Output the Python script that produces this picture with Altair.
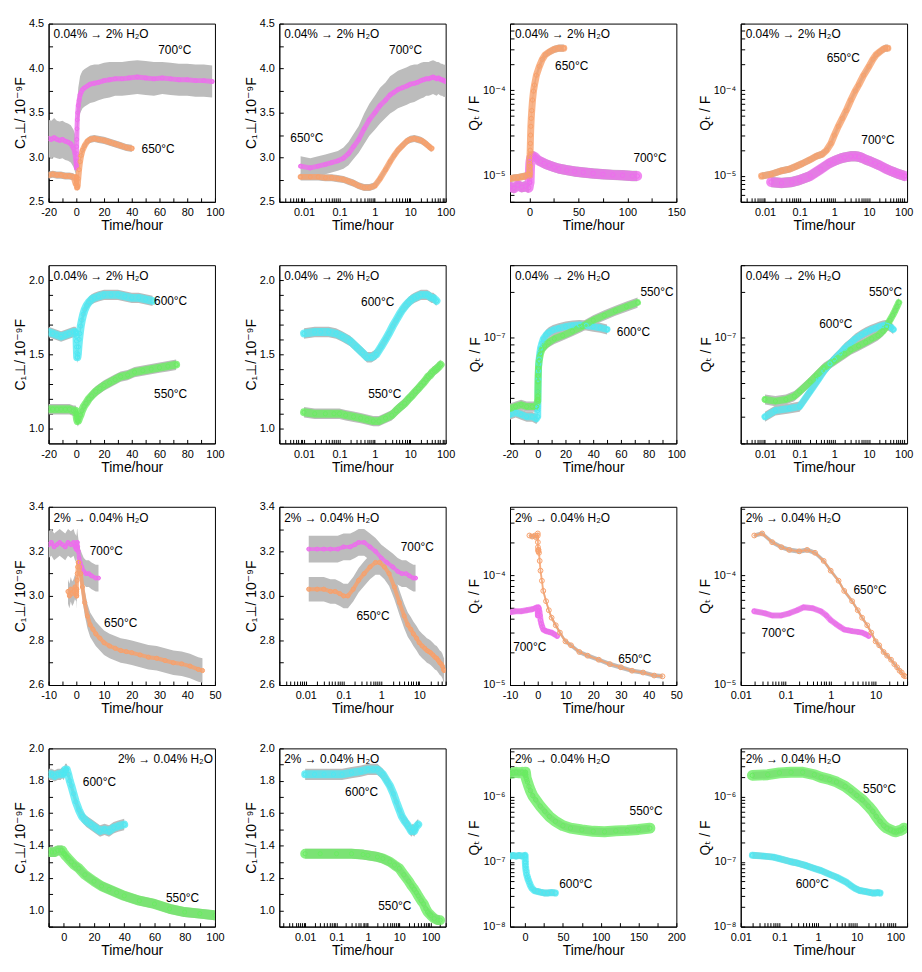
import math
import altair as alt
import pandas as pd

# ---------------- data ----------------
# Hydration 0.04% -> 2% H2O, C1 at 700 C
c1_hyd_700_t = [-20, -18, -16, -14, -12, -10, -8, -6, -4, -2, -1,
                0.008, 0.015, 0.025, 0.04, 0.06, 0.09, 0.13, 0.18, 0.25, 0.35,
                0.5, 0.7, 1.0, 1.4, 2, 2.7, 3.5, 4.5, 6, 8,
                10, 13, 16, 20, 24, 28, 33, 38, 44, 50,
                56, 62, 68, 74, 80, 86, 92, 98]
c1_hyd_700_v = [3.21, 3.2, 3.22, 3.2, 3.19, 3.2, 3.18, 3.17, 3.15, 3.1, 3.05,
                2.9, 2.88, 2.9, 2.92, 2.94, 2.96, 2.99, 3.04, 3.12, 3.2,
                3.32, 3.42, 3.5, 3.58, 3.64, 3.7, 3.73, 3.76, 3.78, 3.8,
                3.82, 3.83, 3.84, 3.86, 3.87, 3.88, 3.88, 3.89, 3.9, 3.89,
                3.88, 3.89, 3.88, 3.87, 3.87, 3.86, 3.86, 3.85]
c1_hyd_700_err = [0.21, 0.21, 0.22, 0.21, 0.21, 0.21, 0.21, 0.21, 0.21, 0.21, 0.21,
                  0.11, 0.11, 0.11, 0.11, 0.11, 0.11, 0.12, 0.13, 0.14, 0.15,
                  0.17, 0.18, 0.19, 0.2, 0.2, 0.21, 0.21, 0.21, 0.21, 0.21,
                  0.21, 0.21, 0.2, 0.2, 0.2, 0.19, 0.19, 0.19, 0.19, 0.19,
                  0.19, 0.18, 0.18, 0.18, 0.18, 0.18, 0.18, 0.18]

# Hydration, C1 at 650 C
c1_hyd_650_t = [-20, -17, -14, -11, -8, -5, -2, -0.5,
                0.008, 0.015, 0.025, 0.04, 0.06, 0.09, 0.13, 0.18, 0.25, 0.35,
                0.5, 0.7, 1.0, 1.4, 2, 2.7, 3.5, 4.5, 6, 8,
                10, 13, 16, 20, 24, 28, 32, 36, 40]
c1_hyd_650_v = [2.8, 2.81, 2.8, 2.8, 2.79, 2.79, 2.78, 2.7,
                2.78, 2.78, 2.78, 2.77, 2.77, 2.76, 2.75, 2.73, 2.71, 2.68,
                2.66, 2.66, 2.68, 2.76, 2.86, 2.95, 3.02, 3.08, 3.13, 3.18,
                3.2, 3.21, 3.2, 3.19, 3.17, 3.15, 3.13, 3.11, 3.1]
c1_hyd_650_err = 0.04

# Hydration, Q_T at 650 C
qt_hyd_650_t = [-20, -16, -12, -8, -4, -1,
                0.008, 0.015, 0.03, 0.05, 0.08, 0.12, 0.2, 0.3, 0.45, 0.6,
                0.8, 1.0, 1.3, 1.7, 2.2, 3, 4, 5, 7, 10,
                13, 16, 20, 25, 30, 35]
qt_hyd_650_v = [9.3e-6, 9.5e-6, 9.6e-6, 9.8e-6, 1.0e-5, 1.05e-5,
                1.0e-5, 1.05e-5, 1.15e-5, 1.2e-5, 1.3e-5, 1.4e-5, 1.55e-5, 1.7e-5, 1.8e-5, 2.0e-5,
                2.4e-5, 3.0e-5, 3.8e-5, 4.7e-5, 5.8e-5, 7.7e-5, 9.8e-5, 1.15e-4, 1.5e-4, 1.9e-4,
                2.3e-4, 2.6e-4, 2.8e-4, 3.0e-4, 3.1e-4, 3.1e-4]
qt_hyd_650_err = 0.1

# Hydration, Q_T at 700 C
qt_hyd_700_t = [-20, -16, -12, -8, -4, -1,
                0.015, 0.03, 0.06, 0.1, 0.2, 0.4, 0.7, 1, 1.5, 2,
                3, 4, 5, 6.5, 8, 11, 15, 20, 25, 30,
                38, 46, 55, 65, 75, 85, 95, 105, 110]
qt_hyd_700_v = [7.5e-6, 7.2e-6, 7.8e-6, 7.4e-6, 7.6e-6, 7.3e-6,
                8.5e-6, 8.3e-6, 8.5e-6, 9.0e-6, 1.0e-5, 1.2e-5, 1.4e-5, 1.5e-5, 1.6e-5, 1.65e-5,
                1.7e-5, 1.7e-5, 1.68e-5, 1.62e-5, 1.55e-5, 1.48e-5, 1.4e-5, 1.33e-5, 1.27e-5, 1.22e-5,
                1.17e-5, 1.13e-5, 1.1e-5, 1.07e-5, 1.05e-5, 1.03e-5, 1.02e-5, 1.0e-5, 1.0e-5]
qt_hyd_700_err = 0.15

# Hydration, C1 at 600 C
c1_hyd_600_t = [-20, -17, -14, -11, -8, -5, -2, -0.5,
                0.01, 0.02, 0.03, 0.05, 0.08, 0.12, 0.2, 0.3, 0.45, 0.6,
                0.8, 1.1, 1.5, 2, 2.5, 3.2, 4, 5, 6, 7.5,
                9, 11, 13, 16, 20, 25, 30, 35, 40, 45,
                50, 55]
c1_hyd_600_v = [1.65, 1.64, 1.63, 1.62, 1.63, 1.64, 1.65, 1.65,
                1.64, 1.65, 1.65, 1.65, 1.64, 1.62, 1.59, 1.55, 1.51, 1.48,
                1.48, 1.5, 1.55, 1.6, 1.64, 1.69, 1.73, 1.77, 1.8, 1.83,
                1.85, 1.87, 1.88, 1.89, 1.9, 1.9, 1.9, 1.89, 1.88, 1.88,
                1.87, 1.86]
c1_hyd_600_err = 0.035

# Hydration, C1 at 550 C
c1_hyd_550_t = [-20, -17, -14, -11, -8, -5, -2, -0.5,
                0.01, 0.02, 0.04, 0.07, 0.1, 0.15, 0.25, 0.4, 0.6, 0.9,
                1.3, 2, 3, 4, 5.5, 7, 9, 11, 14, 17,
                20, 24, 28, 32, 37, 42, 48, 54, 60, 66,
                72]
c1_hyd_550_v = [1.13, 1.13, 1.13, 1.13, 1.13, 1.13, 1.12, 1.12,
                1.11, 1.1, 1.1, 1.1, 1.1, 1.09, 1.08, 1.07, 1.06, 1.05,
                1.05, 1.07, 1.09, 1.12, 1.15, 1.17, 1.2, 1.22, 1.25, 1.27,
                1.29, 1.31, 1.33, 1.35, 1.36, 1.38, 1.39, 1.4, 1.41, 1.42,
                1.43]
c1_hyd_550_err = 0.035

# Hydration, Q_T at 550 C
qt_hyd_550_t = [-20, -16, -12, -8, -4, -1,
                0.01, 0.02, 0.04, 0.07, 0.1, 0.2, 0.3, 0.5,
                1, 2, 3, 5, 8, 12, 18, 25, 32, 40, 48, 56, 64, 72]
qt_hyd_550_v = [3.4e-8, 3.5e-8, 3.6e-8, 3.5e-8, 3.5e-8, 3.5e-8,
                3.9e-8, 3.8e-8, 3.9e-8, 4.1e-8, 4.4e-8, 5.1e-8, 5.6e-8, 6.3e-8,
                7.0e-8, 7.8e-8, 8.3e-8, 8.8e-8, 9.3e-8, 9.8e-8, 1.03e-7, 1.1e-7, 1.18e-7, 1.3e-7,
                1.4e-7, 1.5e-7, 1.6e-7, 1.7e-7]
qt_hyd_550_err = 0.08

# Hydration, Q_T at 600 C
qt_hyd_600_t = [-20, -16, -12, -8, -4, -1,
                0.01, 0.02, 0.05, 0.1, 0.2, 0.35, 0.5, 0.75, 1, 1.5,
                2, 3, 4, 6, 8, 11, 15, 20, 25, 30,
                35, 40, 45, 50]
qt_hyd_600_v = [3.1e-8, 3.2e-8, 3.1e-8, 3.0e-8, 3.0e-8, 2.9e-8,
                3.0e-8, 3.3e-8, 3.4e-8, 3.5e-8, 4.4e-8, 5.3e-8, 6.0e-8, 6.7e-8, 7.2e-8, 7.9e-8,
                8.5e-8, 9.2e-8, 9.8e-8, 1.04e-7, 1.08e-7, 1.12e-7, 1.15e-7, 1.18e-7, 1.2e-7, 1.21e-7,
                1.2e-7, 1.18e-7, 1.16e-7, 1.13e-7]
qt_hyd_600_err = 0.08

# Dehydration 2% -> 0.04% H2O, C1 at 700 C
c1_dehyd_700_t = [-10, -9, -8, -7, -6, -5, -4, -3, -2, -1, -0.5,
                  0.012, 0.02, 0.03, 0.045, 0.07, 0.1, 0.15, 0.2, 0.25, 0.35,
                  0.5, 0.7, 1.0, 1.4, 2, 2.7, 3.5, 4.5, 5.5, 7,
                  8]
c1_dehyd_700_v = [3.23, 3.24, 3.22, 3.23, 3.24, 3.23, 3.22, 3.24, 3.23, 3.24, 3.22,
                  3.21, 3.21, 3.21, 3.21, 3.21, 3.22, 3.22, 3.23, 3.24, 3.24,
                  3.22, 3.2, 3.17, 3.15, 3.13, 3.11, 3.1, 3.1, 3.09, 3.08,
                  3.08]
c1_dehyd_700_err = 0.06

# Dehydration, C1 at 650 C
c1_dehyd_650_t = [-3, -2.5, -2, -1.5, -1, -0.5,
                  0.012, 0.02, 0.03, 0.045, 0.06, 0.08, 0.1, 0.13, 0.18, 0.25,
                  0.35, 0.5, 0.7, 0.9, 1.2, 1.6, 2.2, 3, 4, 5,
                  6, 7, 8.5, 10, 12, 14, 16, 18, 20, 23,
                  26, 29, 32, 35, 38, 41, 44, 45.5]
c1_dehyd_650_v = [3.02, 3.0, 3.03, 3.01, 3.02, 3.04,
                  3.03, 3.03, 3.03, 3.02, 3.02, 3.01, 3.0, 3.0, 3.03, 3.07,
                  3.1, 3.13, 3.15, 3.15, 3.13, 3.1, 3.04, 2.97, 2.91, 2.87,
                  2.85, 2.83, 2.81, 2.79, 2.775, 2.765, 2.755, 2.75, 2.745, 2.735,
                  2.725, 2.72, 2.71, 2.7, 2.695, 2.685, 2.67, 2.665]
c1_dehyd_650_err = 0.055

# Dehydration, Q_T at 650 C
qt_dehyd_650_t = [-3, -2, -1, -0.5,
                  0.02, 0.03, 0.05, 0.08, 0.12, 0.2, 0.3, 0.45, 0.7, 1,
                  1.5, 2, 3, 4, 5, 6.5, 8, 10, 12, 15,
                  18, 22, 26, 30, 34, 38, 42, 45]
qt_dehyd_650_v = [2.3e-4, 2.25e-4, 2.3e-4, 2.2e-4,
                  2.3e-4, 2.4e-4, 2.0e-4, 1.8e-4, 1.7e-4, 1.65e-4, 1.7e-4, 1.6e-4, 1.35e-4, 1.1e-4,
                  8.9e-5, 7.2e-5, 5.8e-5, 4.8e-5, 4.1e-5, 3.5e-5, 3.0e-5, 2.5e-5, 2.3e-5, 2.0e-5,
                  1.85e-5, 1.7e-5, 1.55e-5, 1.45e-5, 1.35e-5, 1.3e-5, 1.22e-5, 1.2e-5]
qt_dehyd_650_err = 0.05

# Dehydration, Q_T at 700 C
qt_dehyd_700_t = [-10, -8, -6, -4, -2, -1, -0.3,
                  0.02, 0.035, 0.05, 0.08, 0.12, 0.18, 0.25, 0.4, 0.6, 0.8,
                  1, 1.3, 1.6, 2, 2.5, 3, 4, 5, 6, 7]
qt_dehyd_700_v = [4.6e-5, 4.7e-5, 4.7e-5, 4.8e-5, 4.9e-5, 5.0e-5, 5.1e-5,
                  4.7e-5, 4.5e-5, 4.3e-5, 4.3e-5, 4.5e-5, 4.8e-5, 5.1e-5, 5.0e-5, 4.7e-5, 4.3e-5,
                  3.9e-5, 3.6e-5, 3.4e-5, 3.2e-5, 3.15e-5, 3.1e-5, 3.05e-5, 3.0e-5, 2.9e-5, 2.8e-5]
qt_dehyd_700_err = 0.05

# Dehydration, C1 at 600 C
c1_dehyd_600_t = [-10, -8, -6, -4, -2, -1,
                  0.01, 0.02, 0.04, 0.08, 0.15, 0.3, 0.6, 1, 1.5, 2,
                  3, 4, 5, 6.5, 8, 10, 12, 15, 18, 21,
                  24, 27, 30, 33, 36, 40]
c1_dehyd_600_v = [1.84, 1.84, 1.83, 1.84, 1.84, 1.85,
                  1.84, 1.84, 1.84, 1.84, 1.84, 1.85, 1.86, 1.87, 1.87, 1.87,
                  1.84, 1.8, 1.77, 1.72, 1.67, 1.62, 1.58, 1.55, 1.53, 1.51,
                  1.49, 1.5, 1.49, 1.51, 1.52, 1.53]
c1_dehyd_600_err = 0.035

# Dehydration, C1 at 550 C
c1_dehyd_550_t = [-10, -8, -6, -4, -2, -1,
                  0.01, 0.03, 0.1, 0.3, 0.7, 1, 2, 3, 5, 7,
                  10, 14, 20, 25, 30, 35, 40, 50, 60, 70,
                  80, 90, 100, 130, 170, 200]
c1_dehyd_550_v = [1.36, 1.36, 1.36, 1.37, 1.37, 1.37,
                  1.35, 1.35, 1.35, 1.35, 1.345, 1.34, 1.33, 1.32, 1.3, 1.28,
                  1.26, 1.22, 1.18, 1.15, 1.13, 1.11, 1.09, 1.06, 1.04, 1.01,
                  0.99, 0.98, 0.97, 0.95, 0.94, 0.94]
c1_dehyd_550_err = 0.03

# Dehydration, Q_T at 550 C
qt_dehyd_550_t = [-20, -16, -12, -8, -4, -1,
                  0.02, 0.05, 0.1, 0.2, 0.4, 0.8, 1.2, 2, 3, 5,
                  7, 10, 14, 20, 26, 32, 40, 50, 60, 75,
                  90, 105, 120, 135, 150, 165]
qt_dehyd_550_v = [2.3e-6, 2.35e-6, 2.4e-6, 2.35e-6, 2.4e-6, 2.3e-6,
                  2.15e-6, 2.2e-6, 2.35e-6, 2.4e-6, 2.4e-6, 2.2e-6, 2.0e-6, 1.85e-6, 1.7e-6, 1.45e-6,
                  1.25e-6, 1.05e-6, 9.0e-7, 7.2e-7, 6.0e-7, 5.0e-7, 4.2e-7, 3.6e-7, 3.3e-7, 3.1e-7,
                  2.95e-7, 2.9e-7, 3.0e-7, 3.05e-7, 3.15e-7, 3.3e-7]
qt_dehyd_550_err = 0.14

# Dehydration, Q_T at 600 C
qt_dehyd_600_t = [-20, -16, -12, -8, -4, -1,
                  0.02, 0.04, 0.07, 0.1, 0.2, 0.3, 0.5, 0.8, 1.2, 2,
                  3, 4, 5.5, 7, 9, 12, 16, 20, 25, 30,
                  35, 40]
qt_dehyd_600_v = [1.22e-7, 1.25e-7, 1.22e-7, 1.25e-7, 1.22e-7, 1.25e-7,
                  1.26e-7, 1.22e-7, 1.18e-7, 1.12e-7, 1.0e-7, 9.5e-8, 8.7e-8, 7.9e-8, 7.3e-8, 6.4e-8,
                  5.8e-8, 5.3e-8, 4.8e-8, 4.3e-8, 3.9e-8, 3.6e-8, 3.5e-8, 3.4e-8, 3.3e-8, 3.3e-8,
                  3.35e-8, 3.3e-8]
qt_dehyd_600_err = 0.12

# panel texts
cond_hyd = "0.04% \u2192 2% H\u2082O"
cond_dehyd = "2% \u2192 0.04% H\u2082O"
title_c1 = "C\u2081\u22a5/ 10\u207b\u2079F"
title_qt = "Q\u209c / F"
title_x = "Time/hour"

# temperature labels: (text, time, value) per panel, row-major
temp_labels = [
    [("700\u00b0C", 71, 4.2), ("650\u00b0C", 59, 3.09)],
    [("700\u00b0C", 7.4, 4.2), ("650\u00b0C", 0.012, 3.22)],
    [("650\u00b0C", 43, 1.9e-4), ("700\u00b0C", 123, 1.6e-5)],
    [("650\u00b0C", 1.8, 2.4e-4), ("700\u00b0C", 18, 2.6e-5)],
    [("600\u00b0C", 68, 1.86), ("550\u00b0C", 68, 1.23)],
    [("600\u00b0C", 1.2, 1.85), ("550\u00b0C", 1.9, 1.23)],
    [("550\u00b0C", 86, 2.0e-7), ("600\u00b0C", 69, 1.08e-7)],
    [("550\u00b0C", 30, 2.0e-7), ("600\u00b0C", 1.1, 1.23e-7)],
    [("700\u00b0C", 10.8, 3.2), ("650\u00b0C", 16, 2.88)],
    [("700\u00b0C", 8.9, 3.22), ("650\u00b0C", 0.6, 2.91)],
    [("700\u00b0C", -2.9, 2.2e-5), ("650\u00b0C", 35, 1.74e-5)],
    [("650\u00b0C", 7.5, 7.4e-5), ("700\u00b0C", 0.068, 3.0e-5)],
    [("600\u00b0C", 23.6, 1.79), ("550\u00b0C", 78.6, 1.075)],
    [("600\u00b0C", 0.63, 1.73), ("550\u00b0C", 7.2, 1.03)],
    [("550\u00b0C", 160, 6e-7), ("600\u00b0C", 67, 4.6e-8)],
    [("550\u00b0C", 39, 1.3e-6), ("600\u00b0C", 0.71, 4.6e-8)],
]

# ---------------- styling ----------------
FONT = "Liberation Sans, Arial, DejaVu Sans"
ORANGE = "#f8a06a"
MAGENTA = "#ee6cee"
CYAN = "#4ee8f2"
GREEN = "#6aec62"
GRAY = "#bcbcbc"
W, H = 168, 180

SERIES = {
    "c1_hyd_700": (c1_hyd_700_t, c1_hyd_700_v, c1_hyd_700_err, False, MAGENTA, 5, 14),
    "c1_hyd_650": (c1_hyd_650_t, c1_hyd_650_v, c1_hyd_650_err, False, ORANGE, 6, 16),
    "qt_hyd_650": (qt_hyd_650_t, qt_hyd_650_v, qt_hyd_650_err, True, ORANGE, 7, 18),
    "qt_hyd_700": (qt_hyd_700_t, qt_hyd_700_v, qt_hyd_700_err, True, MAGENTA, 10, 20),
    "c1_hyd_600": (c1_hyd_600_t, c1_hyd_600_v, c1_hyd_600_err, False, CYAN, 8, 18),
    "c1_hyd_550": (c1_hyd_550_t, c1_hyd_550_v, c1_hyd_550_err, False, GREEN, 8, 18),
    "qt_hyd_550": (qt_hyd_550_t, qt_hyd_550_v, qt_hyd_550_err, True, GREEN, 7, 18),
    "qt_hyd_600": (qt_hyd_600_t, qt_hyd_600_v, qt_hyd_600_err, True, CYAN, 7, 18),
    "c1_dehyd_700": (c1_dehyd_700_t, c1_dehyd_700_v, c1_dehyd_700_err, False, MAGENTA, 4, 16),
    "c1_dehyd_650": (c1_dehyd_650_t, c1_dehyd_650_v, c1_dehyd_650_err, False, ORANGE, 4, 18),
    "qt_dehyd_650": (qt_dehyd_650_t, qt_dehyd_650_v, qt_dehyd_650_err, True, ORANGE, 2, 24),
    "qt_dehyd_700": (qt_dehyd_700_t, qt_dehyd_700_v, qt_dehyd_700_err, True, MAGENTA, 6, 18),
    "c1_dehyd_600": (c1_dehyd_600_t, c1_dehyd_600_v, c1_dehyd_600_err, False, CYAN, 8, 18),
    "c1_dehyd_550": (c1_dehyd_550_t, c1_dehyd_550_v, c1_dehyd_550_err, False, GREEN, 10, 18),
    "qt_dehyd_550": (qt_dehyd_550_t, qt_dehyd_550_v, qt_dehyd_550_err, True, GREEN, 11, 20),
    "qt_dehyd_600": (qt_dehyd_600_t, qt_dehyd_600_v, qt_dehyd_600_err, True, CYAN, 7, 18),
}

SUP = str.maketrans("-0123456789", "\u207b\u2070\u00b9\u00b2\u00b3\u2074\u2075\u2076\u2077\u2078\u2079")


def series_frame(key):
    t, v, err, rel = SERIES[key][:4]
    df = pd.DataFrame({"t": t, "v": v, "err": err})
    if rel:
        df["lo"] = df["v"] / (1 + df["err"])
        df["hi"] = df["v"] * (1 + df["err"])
    else:
        df["lo"] = df["v"] - df["err"]
        df["hi"] = df["v"] + df["err"]
    return df


def log_axis_values(lo, hi):
    vals, labs = [], []
    for n in range(math.floor(math.log10(lo)), math.ceil(math.log10(hi)) + 1):
        for k in range(1, 10):
            val = float(f"{k}e{n}")
            if lo * (1 - 1e-9) <= val <= hi * (1 + 1e-9):
                vals.append(val)
                if k == 1:
                    labs.append((val, n))
    return vals, labs


def expr_rel(pairs):
    return " : ".join(f"abs(datum.value/{v!r}-1)<1e-6 ? '{s}'" for v, s in pairs) + " : ''"


def expr_abs(pairs):
    return " : ".join(f"abs(datum.value-({v!r}))<1e-6 ? '{s}'" for v, s in pairs) + " : ''"


def x_axis(xlog, dom, labeled=None, minor=None):
    if xlog:
        vals, labs = log_axis_values(*dom)
        expr = expr_rel([(v, f"{10.0 ** n:g}") for v, n in labs])
    else:
        vals = sorted(labeled + minor)
        expr = expr_abs([(v, str(int(v))) for v in labeled])
    return alt.Axis(values=vals, labelExpr=expr, title=title_x)


def y_axis(ylog, dom, title, labeled=None, minor=None):
    if ylog:
        vals, labs = log_axis_values(*dom)
        expr = expr_rel([(v, "10" + str(n).translate(SUP)) for v, n in labs])
    else:
        vals = sorted(labeled + minor)
        expr = expr_abs([(v, f"{v:.1f}") for v in labeled])
    return alt.Axis(values=vals, labelExpr=expr, title=title)


def panel(keys, xlog, xdom, xaxis, ylog, ydom, yaxis, cond, cond_right, temps):
    xs = alt.Scale(type="log", domain=xdom, nice=False) if xlog else alt.Scale(domain=xdom, nice=False, zero=False)
    ys = alt.Scale(type="log", domain=ydom, nice=False) if ylog else alt.Scale(domain=ydom, nice=False, zero=False)
    X = alt.X("t:Q", scale=xs, axis=xaxis)
    bands, lines, points = [], [], []
    for k in keys:
        df = series_frame(k)
        if xlog:
            df = df[df["t"] > 0]
        color, lw, size = SERIES[k][4:]
        base = alt.Chart(df)
        bands.append(base.mark_area(color=GRAY, clip=True).encode(
            x=X, y=alt.Y("lo:Q", scale=ys, axis=yaxis), y2="hi:Q"))
        lines.append(base.mark_line(color=color, strokeWidth=lw, opacity=0.8, clip=True,
                                    strokeCap="round", strokeJoin="round").encode(
            x=X, y=alt.Y("v:Q", scale=ys, axis=yaxis)))
        points.append(base.mark_point(shape="circle", filled=False, color=color, size=size,
                                      strokeWidth=1, opacity=1, clip=True).encode(
            x=X, y=alt.Y("v:Q", scale=ys, axis=yaxis)))
    tdf = pd.DataFrame(temps, columns=["label", "t", "v"])
    tlayer = alt.Chart(tdf).mark_text(font=FONT, fontSize=12, color="black",
                                      align="center", baseline="middle").encode(
        x=X, y=alt.Y("v:Q", scale=ys, axis=yaxis), text="label:N")
    cdf = pd.DataFrame({"label": [cond]})
    if cond_right:
        clayer = alt.Chart(cdf).mark_text(font=FONT, fontSize=12, color="black", align="right",
                                          baseline="middle", x=W - 2, y=11).encode(text="label:N")
    else:
        clayer = alt.Chart(cdf).mark_text(font=FONT, fontSize=12, color="black", align="left",
                                          baseline="middle", x=5, y=11).encode(text="label:N")
    return alt.layer(*bands, *lines, *points, tlayer, clayer).properties(width=W, height=H)


# axis definitions per row
lin_x_r1 = ([-20, 0, 20, 40, 60, 80, 100], [-10, 10, 30, 50, 70, 90])
lin_x_r1q = ([0, 50, 100, 150], [25, 75, 125])
lin_x_r3 = ([-10, 0, 10, 20, 30, 40, 50], [-5, 5, 15, 25, 35, 45])
lin_x_r4 = ([0, 20, 40, 60, 80, 100], [-10, 10, 30, 50, 70, 90])
lin_x_r4q = ([0, 50, 100, 150, 200], [25, 75, 125, 175])

y_r1 = ([2.5, 3.0, 3.5, 4.0, 4.5], [2.75, 3.25, 3.75, 4.25])
y_r2 = ([1.0, 1.5, 2.0], [1.1, 1.2, 1.3, 1.4, 1.6, 1.7, 1.8, 1.9])
y_r3 = ([2.6, 2.8, 3.0, 3.2, 3.4], [2.7, 2.9, 3.1, 3.3])
y_r4 = ([1.0, 1.2, 1.4, 1.6, 1.8, 2.0], [0.9, 1.1, 1.3, 1.5, 1.7, 1.9])

specs = [
    # row 1
    (["c1_hyd_700", "c1_hyd_650"], False, [-20, 100], lin_x_r1, False, [2.5, 4.5], y_r1, title_c1, cond_hyd, False),
    (["c1_hyd_700", "c1_hyd_650"], True, [0.002, 100], None, False, [2.5, 4.5], y_r1, title_c1, cond_hyd, False),
    (["qt_hyd_700", "qt_hyd_650"], False, [-20, 150], lin_x_r1q, True, [5e-6, 6e-4], None, title_qt, cond_hyd, False),
    (["qt_hyd_700", "qt_hyd_650"], True, [0.002, 125], None, True, [5e-6, 6e-4], None, title_qt, cond_hyd, False),
    # row 2
    (["c1_hyd_600", "c1_hyd_550"], False, [-20, 100], lin_x_r1, False, [0.9, 2.1], y_r2, title_c1, cond_hyd, False),
    (["c1_hyd_600", "c1_hyd_550"], True, [0.002, 100], None, False, [0.9, 2.1], y_r2, title_c1, cond_hyd, False),
    (["qt_hyd_600", "qt_hyd_550"], False, [-20, 100], lin_x_r1, True, [2e-8, 3e-7], None, title_qt, cond_hyd, False),
    (["qt_hyd_600", "qt_hyd_550"], True, [0.002, 125], None, True, [2e-8, 3e-7], None, title_qt, cond_hyd, False),
    # row 3
    (["c1_dehyd_700", "c1_dehyd_650"], False, [-10, 50], lin_x_r3, False, [2.6, 3.4], y_r3, title_c1, cond_dehyd, False),
    (["c1_dehyd_700", "c1_dehyd_650"], True, [0.002, 50], None, False, [2.6, 3.4], y_r3, title_c1, cond_dehyd, False),
    (["qt_dehyd_700", "qt_dehyd_650"], False, [-10, 50], lin_x_r3, True, [1e-5, 4.2e-4], None, title_qt, cond_dehyd, False),
    (["qt_dehyd_700", "qt_dehyd_650"], True, [0.01, 50], None, True, [1e-5, 4.2e-4], None, title_qt, cond_dehyd, False),
    # row 4
    (["c1_dehyd_600", "c1_dehyd_550"], False, [-10, 100], lin_x_r4, False, [0.9, 2.0], y_r4, title_c1, cond_dehyd, True),
    (["c1_dehyd_600", "c1_dehyd_550"], True, [0.0015, 300], None, False, [0.9, 2.0], y_r4, title_c1, cond_dehyd, False),
    (["qt_dehyd_550", "qt_dehyd_600"], False, [-20, 200], lin_x_r4q, True, [1e-8, 5.6e-6], None, title_qt, cond_dehyd, False),
    (["qt_dehyd_550", "qt_dehyd_600"], True, [0.01, 200], None, True, [1e-8, 5.6e-6], None, title_qt, cond_dehyd, False),
]

panels = []
for i, (keys, xlog, xdom, xl, ylog, ydom, yl, ytitle, cond, cright) in enumerate(specs):
    xa = x_axis(xlog, xdom, *(xl if xl else (None, None)))
    ya = y_axis(ylog, ydom, ytitle, *(yl if yl else (None, None)))
    panels.append(panel(keys, xlog, xdom, xa, ylog, ydom, ya, cond, cright, temp_labels[i]))

chart = alt.concat(*panels, columns=4, spacing={"row": 64, "column": 65}, bounds="flush").properties(
    padding={"left": 5, "top": 4, "right": 0, "bottom": 0}
).configure_view(
    stroke="black", strokeWidth=1
).configure_axis(
    labelFont=FONT, titleFont=FONT, labelFontSize=11, titleFontSize=14,
    titleFontWeight="normal", labelColor="black", titleColor="black",
    domainColor="black", tickColor="black", tickSize={"expr": "-4"}, grid=False,
    labelFlush=False, labelOverlap=False
).configure_axisX(
    labelPadding=9, titlePadding=1
).configure_axisY(
    labelPadding=9, titlePadding=1
)

chart.save("out.html", embed_options={"renderer": "svg", "actions": False})
